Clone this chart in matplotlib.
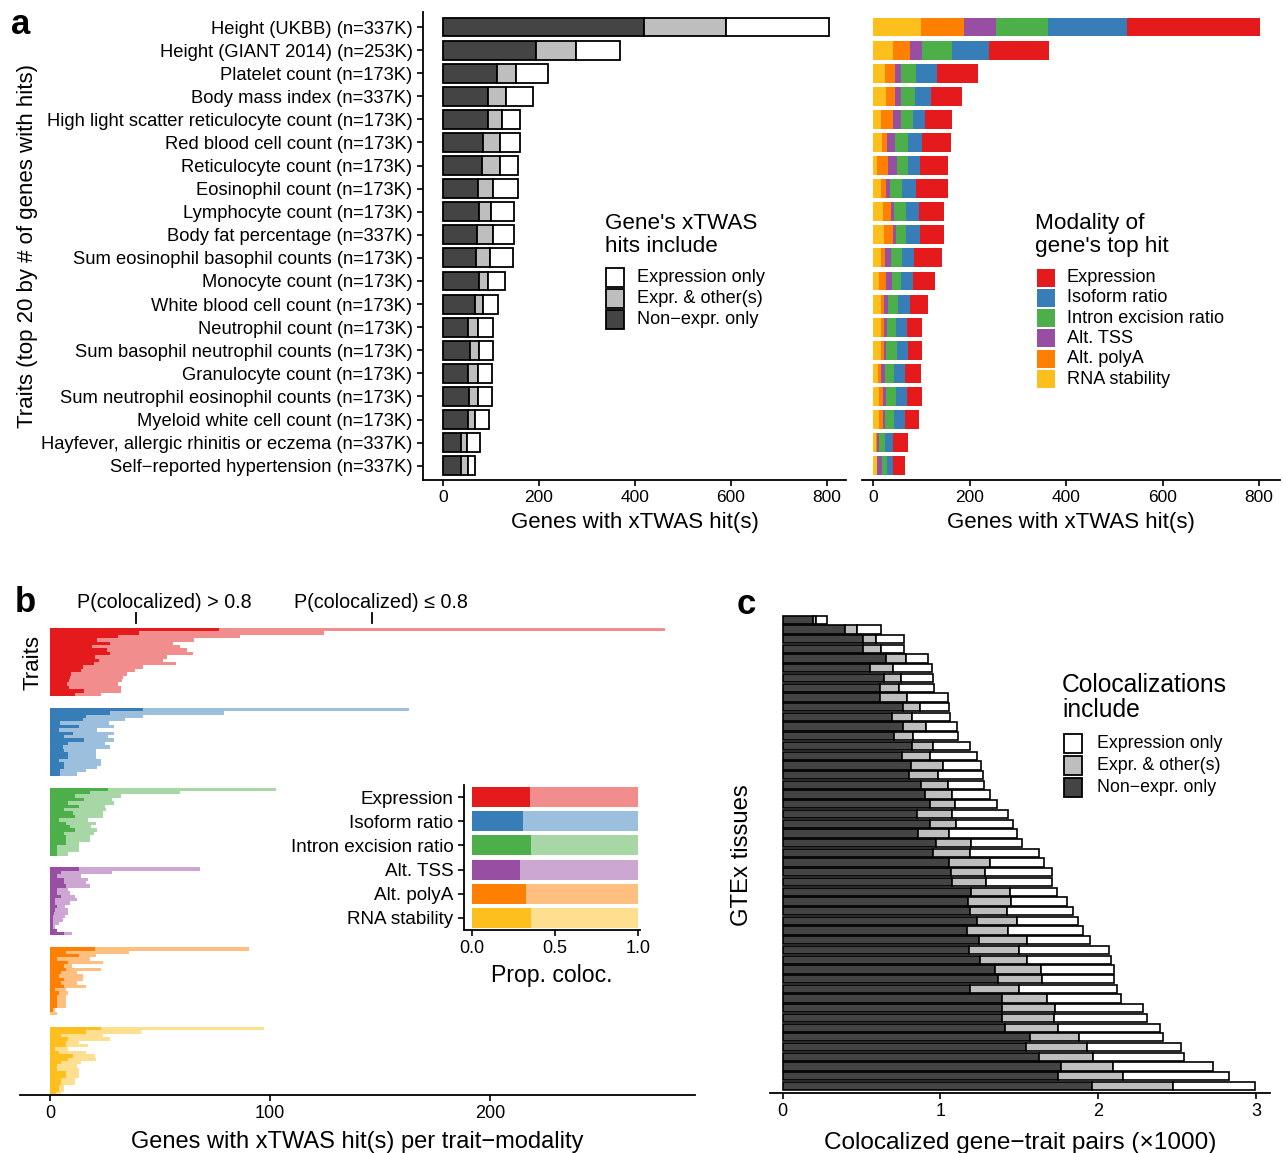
import numpy as np
import matplotlib
matplotlib.use("Agg")
import matplotlib.pyplot as plt
from matplotlib.patches import Rectangle
from matplotlib.lines import Line2D
import matplotlib.transforms as mtransforms

plt.rcParams['font.family'] = ['Liberation Sans', 'DejaVu Sans']

# ---------------- DATA ----------------
traits = ["Height (UKBB) (n=337K)", "Height (GIANT 2014) (n=253K)", "Platelet count (n=173K)",
          "Body mass index (n=337K)", "High light scatter reticulocyte count (n=173K)",
          "Red blood cell count (n=173K)", "Reticulocyte count (n=173K)", "Eosinophil count (n=173K)",
          "Lymphocyte count (n=173K)", "Body fat percentage (n=337K)",
          "Sum eosinophil basophil counts (n=173K)", "Monocyte count (n=173K)",
          "White blood cell count (n=173K)", "Neutrophil count (n=173K)",
          "Sum basophil neutrophil counts (n=173K)", "Granulocyte count (n=173K)",
          "Sum neutrophil eosinophil counts (n=173K)", "Myeloid white cell count (n=173K)",
          "Hayfever, allergic rhinitis or eczema (n=337K)", "Self\u2212reported hypertension (n=337K)"]
non_expr_only = [419, 194, 113, 94, 94, 83, 81, 73, 74, 71, 69, 74, 67, 52, 55, 51, 53, 52, 37, 38]
expr_and_other = [171, 83, 39, 38, 29, 35, 37, 30, 26, 32, 29, 20, 17, 21, 19, 22, 20, 15, 12, 13]
expr_only = [215, 91, 66, 55, 38, 42, 39, 53, 48, 44, 48, 34, 31, 30, 29, 29, 28, 29, 27, 16]

modalities = ["Expression", "Isoform ratio", "Intron excision ratio", "Alt. TSS", "Alt. polyA", "RNA stability"]
top_expression = [276, 124, 85, 64, 56, 60, 60, 66, 52, 50, 58, 44, 37, 33, 31, 33, 31, 29, 31, 25]
top_isoform = [164, 77, 44, 33, 25, 29, 23, 29, 27, 29, 25, 25, 25, 21, 21, 23, 23, 23, 17, 12]
top_intron = [108, 61, 31, 29, 25, 27, 23, 25, 23, 19, 23, 19, 21, 19, 23, 19, 21, 19, 12, 10]
top_tss = [66, 26, 12, 12, 17, 17, 19, 8, 8, 8, 12, 12, 8, 6, 4, 8, 6, 4, 4, 10]
top_polya = [89, 35, 21, 19, 25, 10, 23, 10, 15, 17, 10, 15, 8, 8, 8, 6, 8, 8, 2, 0]
top_stability = [99, 41, 25, 27, 15, 19, 8, 17, 21, 23, 15, 12, 15, 15, 15, 10, 12, 12, 6, 8]

# panel b: per trait-modality genes with hits (colocalized >0.8, total)
expr_hi = [76.7, 40.7, 30.8, 21.5, 27.5, 19.0, 25.9, 27.5, 20.6, 22.5, 20.0, 15.0, 14.0, 9.7, 9.1, 8.7, 7.7, 8.7, 15.4, 11.5]
expr_tot = [279.5, 124.7, 86.4, 65.4, 55.9, 59.1, 62.1, 65.0, 53.2, 51.6, 57.1, 42.3, 38.7, 35.2, 33.2, 32.8, 30.8, 32.2, 32.2, 23.0]
iso_hi = [42.4, 27.3, 16.4, 15.2, 4.8, 13.2, 4.2, 10.5, 6.4, 15.5, 8.2, 6.1, 6.4, 8.2, 8.2, 4.2, 6.4, 6.4, 4.8, 4.8]
iso_tot = [163.2, 79.1, 42.3, 34.1, 27.0, 29.1, 21.2, 29.1, 26.4, 29.1, 25.2, 27.3, 20.9, 20.9, 20.9, 23.2, 23.2, 21.4, 16.4, 12.3]
intron_hi = [26.4, 18.2, 11.4, 15.5, 8.2, 13.2, 6.4, 10.5, 11.4, 4.1, 7.3, 9.1, 11.4, 6.4, 7.3, 7.3, 7.3, 3.2, 3.2, 3.2]
intron_tot = [102.7, 59.1, 32.3, 28.2, 29.1, 25.0, 25.5, 24.1, 24.1, 17.3, 20.9, 18.6, 21.4, 20.0, 18.2, 18.2, 13.0, 13.0, 13.0, 8.0]
tss_hi = [13.2, 5.0, 3.0, 6.4, 6.4, 7.3, 3.2, 3.2, 5.0, 2.3, 2.3, 3.2, 2.3, 1.8, 1.4, 1.4, 1.4, 1.4, 3.2, 6.4]
tss_tot = [68.2, 28.2, 14.1, 17.3, 16.4, 18.2, 8.2, 9.1, 11.4, 12.3, 9.1, 6.8, 8.2, 8.2, 6.8, 5.9, 4.1, 2.3, 3.2, 10.0]
polya_hi = [20.5, 7.3, 13.2, 3.2, 8.2, 6.4, 7.3, 5.0, 4.1, 6.4, 5.0, 6.4, 2.3, 4.1, 3.2, 3.2, 3.2, 3.2, 1.4, 0.0]
polya_tot = [90.5, 35.9, 20.9, 18.2, 24.1, 10.0, 23.2, 12.3, 15.0, 15.0, 12.3, 16.4, 7.3, 8.2, 7.3, 7.3, 7.3, 7.3, 2.3, 3.2]
stab_hi = [23.2, 16.4, 5.0, 8.2, 7.3, 7.3, 2.3, 4.1, 10.5, 8.2, 5.0, 3.2, 3.2, 7.3, 7.3, 5.0, 5.0, 4.1, 4.1, 2.7]
stab_tot = [97.3, 41.4, 24.1, 27.3, 13.2, 17.3, 8.2, 16.4, 20.5, 20.9, 14.1, 12.3, 13.2, 13.2, 13.2, 11.4, 11.4, 6.4, 6.4, 5.0]
prop_coloc = [0.35, 0.31, 0.355, 0.29, 0.325, 0.355]

# panel c: colocalized gene-trait pairs (x1000), cumulative boundaries per tissue
c_non_expr = [0.19, 0.395, 0.507, 0.507, 0.655, 0.553, 0.642, 0.617, 0.617, 0.761, 0.695, 0.765, 0.708,
              0.818, 0.756, 0.816, 0.803, 0.875, 0.902, 0.934, 0.851, 0.934, 0.860, 0.972, 0.951, 1.056,
              1.067, 1.071, 1.194, 1.177, 1.187, 1.234, 1.166, 1.247, 1.183, 1.251, 1.346, 1.367, 1.187,
              1.392, 1.388, 1.392, 1.409, 1.568, 1.542, 1.627, 1.762, 1.743, 1.963]
c_with_other = [0.21, 0.473, 0.589, 0.621, 0.782, 0.701, 0.750, 0.737, 0.786, 0.873, 0.820, 0.906, 0.828,
                0.955, 0.934, 1.018, 0.987, 1.046, 1.075, 1.094, 1.071, 1.099, 1.054, 1.194, 1.187, 1.314,
                1.282, 1.289, 1.439, 1.447, 1.424, 1.487, 1.426, 1.547, 1.500, 1.547, 1.637, 1.642, 1.500,
                1.678, 1.728, 1.722, 1.747, 1.878, 1.931, 1.965, 2.092, 2.155, 2.476]
c_total = [0.28, 0.621, 0.769, 0.769, 0.923, 0.949, 0.953, 0.959, 1.046, 1.054, 1.061, 1.107, 1.113,
           1.187, 1.234, 1.257, 1.268, 1.278, 1.314, 1.361, 1.426, 1.458, 1.487, 1.517, 1.623, 1.659,
           1.705, 1.709, 1.737, 1.800, 1.842, 1.870, 1.906, 1.948, 2.068, 2.081, 2.102, 2.102, 2.121,
           2.144, 2.282, 2.307, 2.388, 2.409, 2.525, 2.544, 2.726, 2.827, 2.994]

# ---------------- STYLE ----------------
DARK = '#444444'
MID = '#bebebe'
COLS = ['#E41A1C', '#377EB8', '#4DAF4A', '#984EA3', '#FF7F00', '#FCBF1E']
def lighten(c, f=0.5):
    r, g, b = matplotlib.colors.to_rgb(c)
    return (r + (1 - r) * f, g + (1 - g) * f, b + (1 - b) * f)
LCOLS = [lighten(c) for c in COLS]

W, H = 1283, 1153
fig = plt.figure(figsize=(W / 100, H / 100), dpi=100)

def rect(x0, y0, x1, y1):
    return [x0 / W, 1 - y1 / H, (x1 - x0) / W, (y1 - y0) / H]

def fx(x):
    return x / W

def fy(y):
    return 1 - y / H

NUM = 12.5

def style_ax(ax, left=True):
    for s in ['top', 'right']:
        ax.spines[s].set_visible(False)
    ax.spines['left'].set_visible(left)
    for s in ['left', 'bottom']:
        ax.spines[s].set_linewidth(1.3)
    ax.tick_params(length=4, width=1.2, labelsize=NUM, colors='black')

def fig_rect(x0, y0, w, h, color, edge=True):
    fig.patches.append(Rectangle((fx(x0), fy(y0 + h)), w / W, h / H, transform=fig.transFigure,
                                 facecolor=color, edgecolor='black' if edge else 'none',
                                 lw=1.3 if edge else 0))

# ---------------- PANEL a (left) ----------------
ne = np.array(non_expr_only)
eo = np.array(expr_and_other)
ex = np.array(expr_only)
yy = np.arange(len(traits))
axL = fig.add_axes(rect(423, 12, 846, 480))
axL.barh(yy, ne, height=0.82, color=DARK, edgecolor='black', lw=1.3)
axL.barh(yy, eo, left=ne, height=0.82, color=MID, edgecolor='black', lw=1.3)
axL.barh(yy, ex, left=ne + eo, height=0.82, color='white', edgecolor='black', lw=1.3)
axL.set_xlim(-42, 840)
axL.set_ylim(19.62, -0.65)
axL.set_yticks(yy)
axL.set_yticklabels(traits)
axL.set_xticks([0, 200, 400, 600, 800])
style_ax(axL)
axL.tick_params(axis='y', labelsize=13.2, pad=3.5)
axL.set_xlabel("Genes with xTWAS hit(s)", fontsize=16, labelpad=5)
fig.text(fx(28), fy(246), "Traits (top 20 by # of genes with hits)", rotation=90,
         ha='center', va='center', fontsize=16)

# legend a-left
fig.text(fx(605), fy(213), "Gene's xTWAS\nhits include", ha='left', va='top', fontsize=16.2, linespacing=1.15)
for i, (lab, col) in enumerate([("Expression only", 'white'), ("Expr. & other(s)", MID), ("Non\u2212expr. only", DARK)]):
    yc = 278 + i * 20.5
    fig_rect(606, yc - 9.5, 18, 19, col, edge=True)
    fig.text(fx(637), fy(yc), lab, ha='left', va='center', fontsize=13.1)

# ---------------- PANEL a (right) ----------------
axR = fig.add_axes(rect(862, 12, 1280, 480))
stack_vals = [top_stability, top_polya, top_tss, top_intron, top_isoform, top_expression]
stack_cols = [COLS[5], COLS[4], COLS[3], COLS[2], COLS[1], COLS[0]]
left = np.zeros(len(traits))
for vals, col in zip(stack_vals, stack_cols):
    v = np.array(vals, dtype=float)
    axR.barh(yy, v, left=left, height=0.82, color=col, lw=0)
    left += v
axR.set_xlim(-23.4, 843.6)
axR.set_ylim(19.62, -0.65)
axR.set_yticks([])
axR.set_xticks([0, 200, 400, 600, 800])
style_ax(axR, left=False)
axR.set_xlabel("Genes with xTWAS hit(s)", fontsize=16, labelpad=5)

fig.text(fx(1035), fy(213), "Modality of\ngene's top hit", ha='left', va='top', fontsize=16.2, linespacing=1.15)
for i, (lab, col) in enumerate(zip(modalities, COLS)):
    yc = 277.5 + i * 20.3
    fig_rect(1037, yc - 9, 18, 18, col, edge=False)
    fig.text(fx(1067), fy(yc), lab, ha='left', va='center', fontsize=13.1)

# ---------------- PANEL b ----------------
axB = fig.add_axes(rect(20, 628, 695, 1095))
groups_hi = [expr_hi, iso_hi, intron_hi, tss_hi, polya_hi, stab_hi]
groups_tot = [expr_tot, iso_tot, intron_tot, tss_tot, polya_tot, stab_tot]
for g, (hi, tot) in enumerate(zip(groups_hi, groups_tot)):
    hi = np.array(hi)
    tot = np.array(tot)
    ypos = g * 23.5 + np.arange(len(hi))
    axB.barh(ypos, hi, height=1.0, color=COLS[g], lw=0)
    axB.barh(ypos, tot - hi, left=hi, height=1.0, color=LCOLS[g], lw=0)
axB.set_xlim(-13.6, 293.2)
axB.set_ylim(137.0, -0.5)
axB.set_yticks([])
axB.set_xticks([0, 100, 200])
style_ax(axB, left=False)
axB.tick_params(axis='x', labelsize=13)
axB.set_xlabel("Genes with xTWAS hit(s) per trait\u2212modality", fontsize=17, labelpad=6)
fig.text(fx(33), fy(663), "Traits", rotation=90, ha='center', va='center', fontsize=16)

bt = mtransforms.blended_transform_factory(axB.transData, fig.transFigure)
for xt, xl, lab in [(39.1, 51.8, "P(colocalized) > 0.8"), (146.4, 150.5, "P(colocalized) \u2264 0.8")]:
    axB.text(xl, fy(602), lab, transform=bt, ha='center', va='center', fontsize=14.2, clip_on=False)
    axB.add_line(Line2D([xt, xt], [fy(613), fy(623)], transform=bt, color='black', lw=1.3, clip_on=False))

# inset
axI = fig.add_axes(rect(464, 785, 640, 930))
yi = np.arange(len(modalities))
p = np.array(prop_coloc)
for i in range(len(modalities)):
    axI.barh(yi[i], p[i], height=0.83, color=COLS[i], lw=0)
    axI.barh(yi[i], 1 - p[i], left=p[i], height=0.83, color=LCOLS[i], lw=0)
axI.set_xlim(-0.048, 1.012)
axI.set_ylim(5.5, -0.5)
axI.set_yticks(yi)
axI.set_yticklabels(modalities)
axI.set_xticks([0, 0.5, 1.0])
axI.set_xticklabels(['0.0', '0.5', '1.0'])
style_ax(axI)
axI.tick_params(axis='y', labelsize=13.6)
axI.tick_params(axis='x', labelsize=13)
axI.set_xlabel("Prop. coloc.", fontsize=16.6, labelpad=5)

# ---------------- PANEL c ----------------
axC = fig.add_axes(rect(770, 612, 1270, 1093))
cn = np.array(c_non_expr)
cw = np.array(c_with_other)
ct = np.array(c_total)
yc_ = np.arange(len(cn))
axC.barh(yc_, cn, height=0.85, color=DARK, edgecolor='black', lw=1.2)
axC.barh(yc_, cw - cn, left=cn, height=0.85, color=MID, edgecolor='black', lw=1.2)
axC.barh(yc_, ct - cw, left=cw, height=0.85, color='white', edgecolor='black', lw=1.2)
axC.set_xlim(-0.08, 3.088)
axC.set_ylim(48.73, -0.8)
axC.set_yticks([])
axC.set_xticks([0, 1, 2, 3])
style_ax(axC, left=False)
axC.tick_params(axis='x', labelsize=13)
axC.set_xlabel("Colocalized gene\u2212trait pairs (\u00d71000)", fontsize=17.6, labelpad=8)
fig.text(fx(742), fy(855), "GTEx tissues", rotation=90, ha='center', va='center', fontsize=17.2)

fig.text(fx(1062), fy(673), "Colocalizations\ninclude", ha='left', va='top', fontsize=17.7, linespacing=1.05)
for i, (lab, col) in enumerate([("Expression only", 'white'), ("Expr. & other(s)", MID), ("Non\u2212expr. only", DARK)]):
    ycc = 743 + i * 22
    fig_rect(1064, ycc - 9.5, 18, 19, col, edge=True)
    fig.text(fx(1097), fy(ycc), lab, ha='left', va='center', fontsize=12.8)

# panel letters
for (x, y, l) in [(21, 25, 'a'), (25, 603, 'b'), (746, 604, 'c')]:
    fig.text(fx(x), fy(y), l, ha='center', va='center', fontsize=25, fontweight='bold')

fig.savefig('out.png', dpi=100)
